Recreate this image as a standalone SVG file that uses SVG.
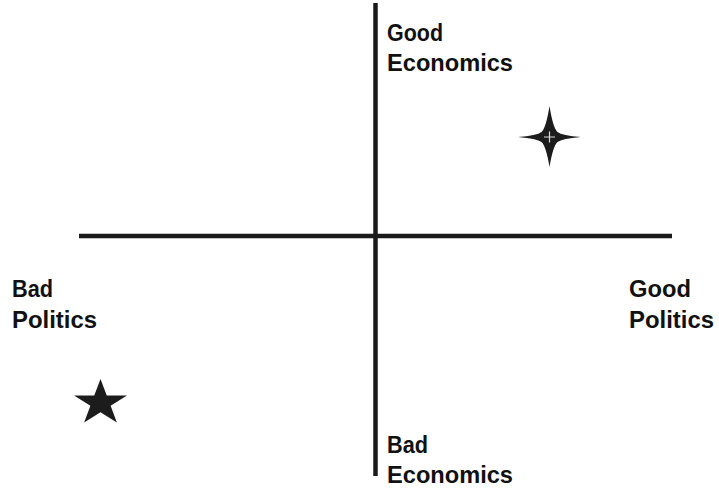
<svg xmlns="http://www.w3.org/2000/svg" width="719" height="495" viewBox="0 0 719 495">
<style>
.lbl{font-family:"Liberation Sans",Arial,sans-serif;font-weight:bold;font-size:23px;fill:#111}
.axis{stroke:#1a1a1a;stroke-width:4.5;fill:none}
.mark{fill:#1c1c1c}
</style>
<rect width="719" height="495" fill="#fff"/>
<g id="connectors">
<line class="axis" x1="375.5" y1="3" x2="375.5" y2="476"/>
<line class="axis" x1="79" y1="236" x2="672" y2="236"/>
</g>
<g id="good-economics">
<text class="lbl" x="387" y="41" textLength="56" lengthAdjust="spacingAndGlyphs">Good</text>
<text class="lbl" x="387" y="71" textLength="126" lengthAdjust="spacingAndGlyphs">Economics</text>
</g>
<g id="bad-economics">
<text class="lbl" x="387" y="453" textLength="41" lengthAdjust="spacingAndGlyphs">Bad</text>
<text class="lbl" x="387" y="483" textLength="126" lengthAdjust="spacingAndGlyphs">Economics</text>
</g>
<g id="bad-politics">
<text class="lbl" x="12" y="297" textLength="41" lengthAdjust="spacingAndGlyphs">Bad</text>
<text class="lbl" x="12" y="328" textLength="85" lengthAdjust="spacingAndGlyphs">Politics</text>
</g>
<g id="good-politics">
<text class="lbl" x="629" y="297" textLength="62" lengthAdjust="spacingAndGlyphs">Good</text>
<text class="lbl" x="629" y="328" textLength="85" lengthAdjust="spacingAndGlyphs">Politics</text>
</g>
<g id="star-bad">
<polygon class="mark" transform="translate(100.5,403) scale(1.16,1)" points="0,-24 5.39,-7.42 22.83,-7.42 8.72,2.83 14.11,19.42 0,9.17 -14.11,19.42 -8.72,2.83 -22.83,-7.42 -5.39,-7.42"/>
</g>
<g id="star-good">
<path class="mark" d="M549.5,106 Q553,128 557.5,132 Q562,135.5 581,137 Q562,138.5 557.5,142 Q553,146 549.5,167 Q546,146 541.5,142 Q537,138.5 518,137 Q537,135.5 541.5,132 Q546,128 549.5,106 Z"/>
<path d="M544,137 H555 M549.5,131.5 V142.5" stroke="#d8d8d8" stroke-width="1.2" fill="none"/>
</g>
</svg>
